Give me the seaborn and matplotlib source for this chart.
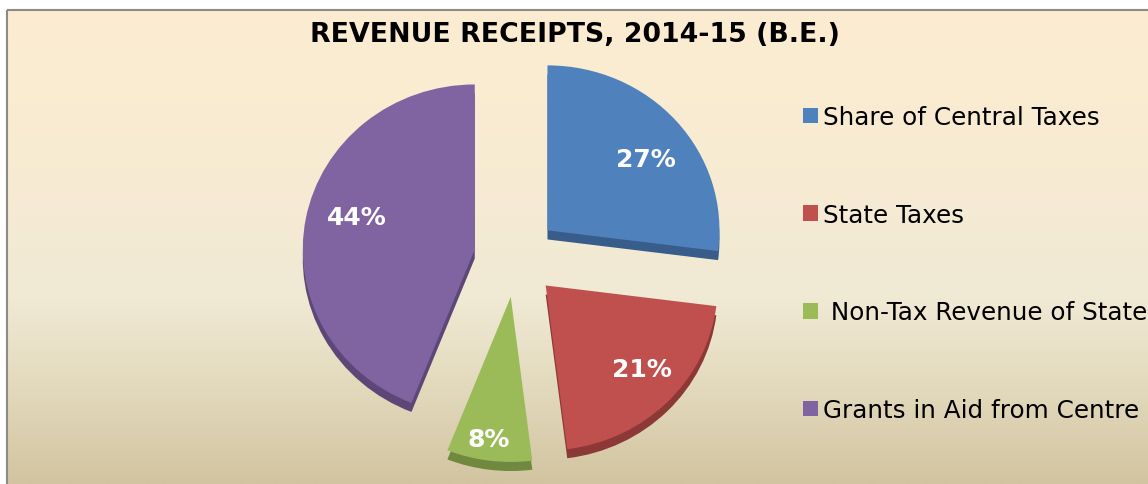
import numpy as np
import matplotlib
matplotlib.use("Agg")
import matplotlib.pyplot as plt
import seaborn as sns
from matplotlib.patches import Patch
from matplotlib.colors import LinearSegmentedColormap

# ---- data ----
categories = ["Share of Central Taxes", "State Taxes", " Non-Tax Revenue of State", "Grants in Aid from Centre"]
shares = [27, 21, 8, 44]
title = "REVENUE RECEIPTS, 2014-15 (B.E.)"

# ---- style ----
top_colors = ["#4F81BD", "#C0504D", "#9BBB59", "#8064A2"]
side_colors = ["#385D8A", "#8C3836", "#71893F", "#5C4776"]
label_dist = [0.716, 0.755, 0.87, 0.714]
label_turn = [-4.5, 2.6, -1.3, -5.2]

sns.set_theme(style="white")
plt.rcParams["font.family"] = ["DejaVu Sans"]

W, H = 1148, 485
fig = plt.figure(figsize=(W / 100, H / 100), dpi=100)
fig.patch.set_facecolor("white")

# background gradient panel
bg = fig.add_axes([0, 0, 1, 1])
bg.axis("off")
stops = [(0.0, "#FCEDD1"), (0.40, "#F6EBD3"), (0.61, "#F0E9D4"), (0.78, "#E4DBBF"), (1.0, "#D2C4A0")]
cmap = LinearSegmentedColormap.from_list("parch", stops)
grad = np.linspace(0, 1, 256).reshape(-1, 1)
bg.imshow(grad, extent=(7, W, H, 11), aspect="auto", cmap=cmap, origin="upper", interpolation="bilinear")
bg.plot([7, 7], [H, 11], color="#8A8A8A", lw=1.5, solid_capstyle="butt")
bg.plot([7, W], [11, 11], color="#8A8A8A", lw=1.5, solid_capstyle="butt")
bg.set_xlim(0, W)
bg.set_ylim(H, 0)

# pie axes: 1 data unit = 172 px horizontally, 165 px vertically (slight tilt)
RX, RY = 172, 165
L = 1.5
sx, sy = 2 * L * RX, 2 * L * RY
cx, cy = 516, 258
ax = fig.add_axes([(cx - sx / 2) / W, (H - cy - sy / 2) / H, sx / W, sy / H])
ax.patch.set_alpha(0)
explode = [0.244] * len(shares)

ax.pie(shares, colors=side_colors, explode=explode, startangle=90, counterclock=False,
       radius=1, center=(0, -0.055), wedgeprops=dict(linewidth=0))
wedges, texts, autotexts = ax.pie(
    shares, colors=top_colors, explode=explode, startangle=90, counterclock=False,
    radius=1, autopct=lambda p: f"{p:.0f}%", pctdistance=0.72,
    textprops=dict(color="white", fontsize=18, fontweight="bold"),
    wedgeprops=dict(linewidth=0))
for w, t, d, turn in zip(wedges, autotexts, label_dist, label_turn):
    ang = np.deg2rad((w.theta1 + w.theta2) / 2 + turn)
    wx, wy = w.center
    t.set_position((wx + d * np.cos(ang), wy + d * np.sin(ang)))
ax.set_xlim(-L, L)
ax.set_ylim(-L, L)
ax.set_aspect("auto")
ax.axis("off")

# title
fig.text(575 / W, 1 - 35 / H, title, ha="center", va="center", fontsize=19.3,
         fontweight="bold", color="black")

# legend
handles = [Patch(facecolor=c, edgecolor="none") for c in top_colors]
fig.legend(handles, categories, loc="upper left", bbox_to_anchor=(803 / W, 1 - 106 / H),
           frameon=False, fontsize=17.7, handlelength=0.6, handleheight=0.6,
           handletextpad=0.2, labelspacing=3.0, borderaxespad=0, borderpad=0,
           labelcolor="black")

fig.savefig("out.png", dpi=100, facecolor="white")
